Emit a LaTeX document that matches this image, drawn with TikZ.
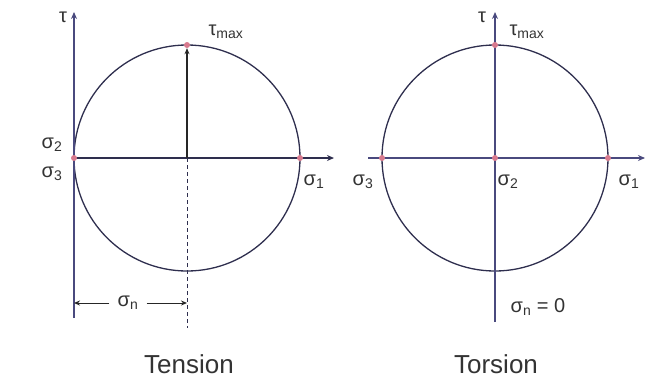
\documentclass[tikz,border=0pt]{standalone}
\usepackage{fontspec}
\setmainfont{Liberation Sans}
\usetikzlibrary{arrows.meta}
\definecolor{axiscol}{HTML}{4A4A7E}
\definecolor{circcol}{HTML}{2E2E4E}
\definecolor{dotcol}{HTML}{D87A8E}
\tikzset{
  axis/.style={draw=axiscol, line width=1.6pt, -{Stealth[length=7pt,width=6pt]}},
  mohr/.style={draw=circcol, line width=1.3pt},
  pt/.style={circle, fill=dotcol, inner sep=0pt, minimum size=6pt},
  lbl/.style={font=\fontsize{20}{22}\selectfont, inner sep=1pt, text=black!80},
  title/.style={font=\fontsize{26}{28}\selectfont, text=black!80},
  dim/.style={draw=black!85, line width=1pt, -{Stealth[length=6pt,width=5pt]}}
}
\begin{document}
\begin{tikzpicture}[x=1pt,y=-1pt]
\useasboundingbox (0,0) rectangle (646,381);
% ---------- Tension ----------
\coordinate (LO) at (74,158);
\coordinate (LC) at (187,158);
\coordinate (LT) at (74,12);
\coordinate (LB) at (74,318);
\coordinate (LR) at (334,158);
\coordinate (LD) at (187,328);
\draw[mohr] (LC) circle (113);
\draw[axis] (LB) -- (LT);
\draw[axis, draw=circcol] (LO) -- (LR);
\node[pt] (L3) at (74,158) {};
\node[pt] (L1) at (300,158) {};
\node[pt] (Ltop) at (187,45) {};
\draw[dim, line width=1.3pt] (LC) -- (Ltop);
\draw[circcol, line width=1pt, dashed, dash pattern=on 4pt off 3pt] (LC) -- (LD);
\coordinate (NL) at (74,303);
\coordinate (NR) at (187,303);
\node[lbl, fill=white, inner xsep=8pt] (sn) at (128,303) {σ\textsubscript{n}};
\draw[dim] (sn.west) -- (NL);
\draw[dim] (sn.east) -- (NR);
\node[lbl] (ltau) at (63,17) {τ};
\node[lbl] (ltmax) at (226,32) {τ\textsubscript{max}};
\node[lbl] (ls2) at (52,145) {σ\textsubscript{2}};
\node[lbl] (ls3) at (52,174) {σ\textsubscript{3}};
\node[lbl] (ls1) at (314,182) {σ\textsubscript{1}};
\node[title] (tens) at (189,364) {Tension};
% ---------- Torsion ----------
\coordinate (RC) at (495,158);
\coordinate (RT) at (495,12);
\coordinate (RB) at (495,322);
\coordinate (RL) at (368,158);
\coordinate (RR) at (645,158);
\draw[mohr] (RC) circle (113);
\draw[axis] (RB) -- (RT);
\draw[axis] (RL) -- (RR);
\node[pt] (R3) at (382,158) {};
\node[pt] (R2) at (495,158) {};
\node[pt] (R1) at (608,158) {};
\node[pt] (Rtop) at (495,45) {};
\node[lbl] (rtau) at (482,17) {τ};
\node[lbl] (rtmax) at (527,32) {τ\textsubscript{max}};
\node[lbl] (rs3) at (363,182) {σ\textsubscript{3}};
\node[lbl] (rs2) at (508,182) {σ\textsubscript{2}};
\node[lbl] (rs1) at (629,182) {σ\textsubscript{1}};
\node[lbl] (rsn) at (538,307) {σ\textsubscript{n} = 0};
\node[title] (tors) at (496,364) {Torsion};
\end{tikzpicture}
\end{document}
